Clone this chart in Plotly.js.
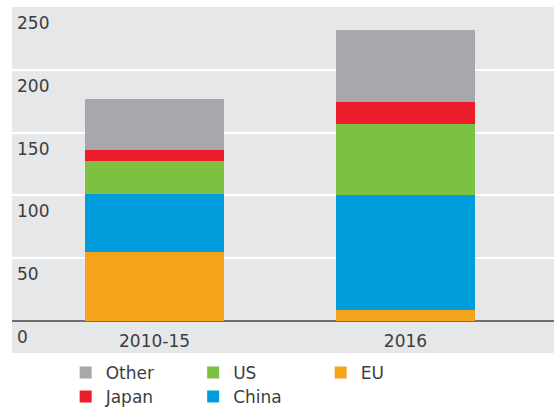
<!DOCTYPE html>
<html>
<head>
<meta charset="utf-8">
<script src="https://cdn.plot.ly/plotly-3.0.1.min.js"></script>
<style>html,body{margin:0;padding:0;background:#fff;}#chart{width:554px;height:408px;}</style>
</head>
<body>
<div id="chart"></div>
<script>
// ---- data ----
const categories = ['2010-15', '2016'];
const xTickText = ['2010-15', '2016'];
const euValues = [55, 9];
const chinaValues = [46.5, 91];
const usValues = [25.5, 57];
const japanValues = [9, 17];
const otherValues = [41, 58];
const yTickValues = [0, 50, 100, 150, 200, 250];
const yTickText = ['0', '50', '100', '150', '200', '250'];

// ---- styles ----
const textColor = '#3d3d3f';
const font = {family: 'DejaVu Sans', size: 17, color: textColor};

function bar(name, values, color, rank, legendId) {
  return {
    type: 'bar', name: name, x: categories, y: values,
    width: 0.554, marker: {color: color, line: {width: 0}},
    legendrank: rank, legend: legendId, hoverinfo: 'skip'
  };
}

const traces = [
  bar('EU', euValues, '#f6a31c', 3, 'legend'),
  bar('China', chinaValues, '#009ddc', 2, 'legend2'),
  bar('US', usValues, '#7cc142', 2, 'legend'),
  bar('Japan', japanValues, '#ec1c2a', 1, 'legend2'),
  bar('Other', otherValues, '#a6a8ab', 1, 'legend')
];

const legendCommon = {
  orientation: 'h', xanchor: 'left', yanchor: 'middle',
  x: 0.099, entrywidth: 82.5, entrywidthmode: 'pixels',
  bgcolor: 'rgba(0,0,0,0)', borderwidth: 0,
  font: {family: 'DejaVu Sans', size: 17, color: textColor},
  traceorder: 'normal', itemclick: false, itemdoubleclick: false
};

const layout = {
  width: 554, height: 408,
  margin: {l: 12, r: 0, t: 7, b: 55, autoexpand: false},
  paper_bgcolor: '#ffffff',
  plot_bgcolor: '#e6e7e8',
  barmode: 'stack',
  bargap: 0,
  font: font,
  showlegend: true,
  legend: Object.assign({}, legendCommon, {y: -0.058}),
  legend2: Object.assign({}, legendCommon, {y: -0.127}),
  xaxis: {
    type: 'category', categoryorder: 'array', categoryarray: categories,
    range: [-0.568, 1.592], fixedrange: true,
    tickvals: categories, ticktext: xTickText,
    ticklabelposition: 'inside', ticks: '', showline: false, showgrid: false,
    zeroline: false,
    tickfont: {family: 'DejaVu Sans', size: 17, color: textColor}
  },
  yaxis: {
    range: [-25.5, 250], fixedrange: true,
    tickvals: yTickValues, ticktext: yTickText,
    ticklabelposition: 'inside', ticklabelshift: 16, ticklabelstandoff: 2,
    ticks: '', showline: false,
    showgrid: true, gridcolor: '#ffffff', gridwidth: 2,
    zeroline: true, zerolinecolor: '#6d6e71', zerolinewidth: 2,
    tickfont: {family: 'DejaVu Sans', size: 17, color: textColor}
  }
};

Plotly.newPlot('chart', traces, layout, {displayModeBar: false, staticPlot: true});
</script>
</body>
</html>
